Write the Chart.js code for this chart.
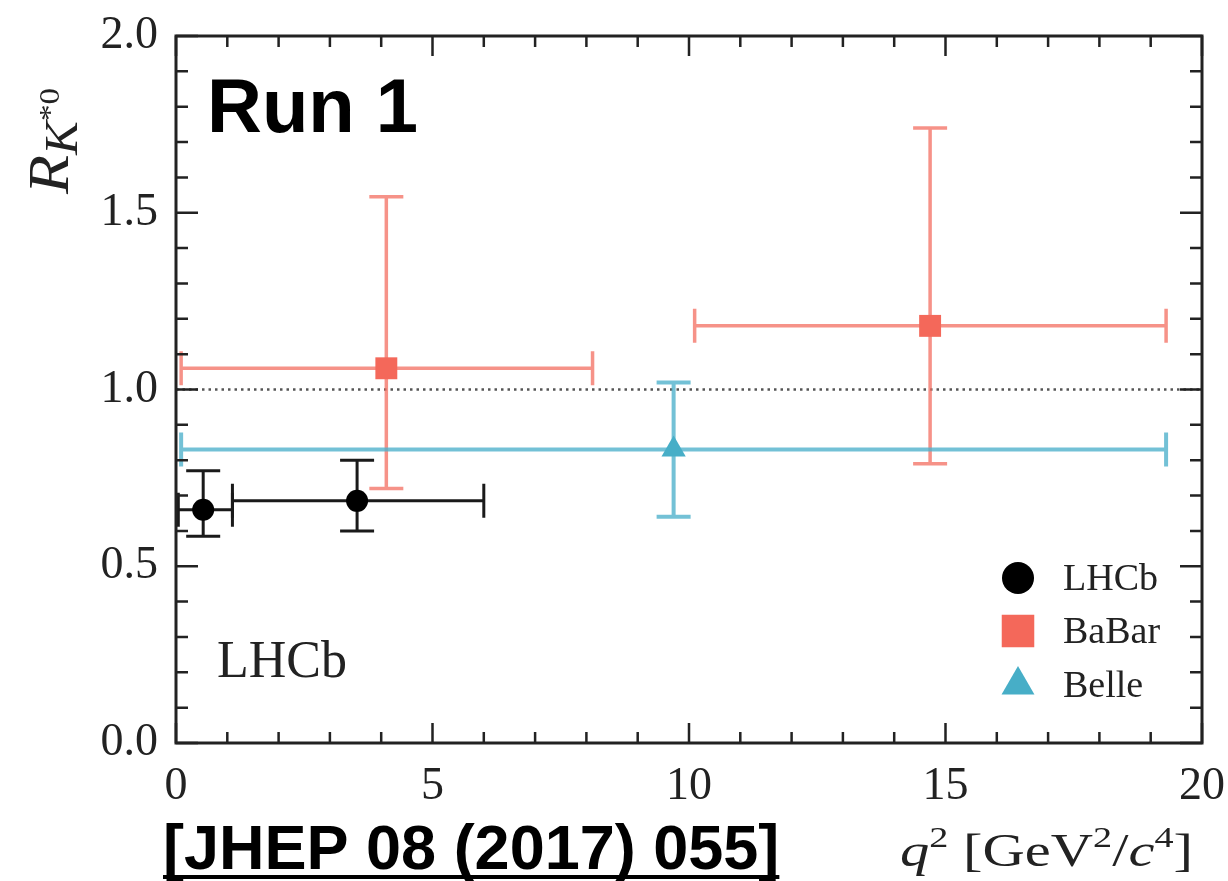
<!DOCTYPE html>
<html>
<head>
<meta charset="utf-8">
<script src="https://cdn.jsdelivr.net/npm/chart.js@4.4.1/dist/chart.umd.min.js"></script>
<style>
    html, body { margin: 0; padding: 0; background: #fff; }
    #wrap { width: 1228px; height: 881px; }
</style>
</head>
<body>
<div id="wrap"><canvas id="chart" width="1228" height="881"></canvas></div>
<script>
// LHCb (Run 1)
const lhcbQ2 = [0.53, 3.53];
const lhcbQ2Lo = [0.045, 1.1];
const lhcbQ2Hi = [1.1, 6.0];
const lhcbR = [0.66, 0.685];
const lhcbRLo = [0.585, 0.60];
const lhcbRHi = [0.77, 0.80];

// BaBar
const babarQ2 = [4.1, 14.7];
const babarQ2Lo = [0.1, 10.11];
const babarQ2Hi = [8.12, 19.3];
const babarR = [1.06, 1.18];
const babarRLo = [0.72, 0.79];
const babarRHi = [1.545, 1.74];

// Belle
const belleQ2 = [9.7];
const belleQ2Lo = [0.1];
const belleQ2Hi = [19.3];
const belleR = [0.83];
const belleRLo = [0.64];
const belleRHi = [1.02];

const xTicks = [0, 5, 10, 15, 20];
const yTicks = [0.0, 0.5, 1.0, 1.5, 2.0];
const legendLabels = ["LHCb", "BaBar", "Belle"];

const SERIF = "'Liberation Serif', 'DejaVu Serif', serif";
const SANS = "'Liberation Sans', Arial, sans-serif";

function buildPoints(x, xLo, xHi, y, yLo, yHi) {
    return x.map((v, i) => ({ x: v, y: y[i], xMin: xLo[i], xMax: xHi[i], yMin: yLo[i], yMax: yHi[i] }));
}

// error bars (horizontal bin + vertical uncertainty) with caps
const errorBars = {
    id: "errorBars",
    beforeDatasetsDraw(chart) {
        const { ctx, scales: { x, y } } = chart;
        chart.data.datasets.forEach(ds => {
            ctx.save();
            ctx.strokeStyle = ds.errorColor;
            ctx.lineWidth = ds.errorWidth;
            const cap = 17;
            ds.data.forEach(p => {
                const px = x.getPixelForValue(p.x);
                const py = y.getPixelForValue(p.y);
                const x0 = x.getPixelForValue(p.xMin);
                const x1 = x.getPixelForValue(p.xMax);
                const y0 = y.getPixelForValue(p.yMin);
                const y1 = y.getPixelForValue(p.yMax);
                ctx.beginPath();
                ctx.moveTo(x0, py); ctx.lineTo(x1, py);
                ctx.moveTo(x0, py - cap); ctx.lineTo(x0, py + cap);
                ctx.moveTo(x1, py - cap); ctx.lineTo(x1, py + cap);
                ctx.moveTo(px, y0); ctx.lineTo(px, y1);
                ctx.moveTo(px - cap, y0); ctx.lineTo(px + cap, y0);
                ctx.moveTo(px - cap, y1); ctx.lineTo(px + cap, y1);
                ctx.stroke();
            });
            ctx.restore();
        });
    }
};

// dotted reference line at R = 1
const refLine = {
    id: "refLine",
    beforeDatasetsDraw(chart) {
        const { ctx, chartArea: a, scales: { y } } = chart;
        const py = y.getPixelForValue(1.0);
        ctx.save();
        ctx.strokeStyle = "#555";
        ctx.lineWidth = 2.5;
        ctx.setLineDash([2.5, 4]);
        ctx.beginPath();
        ctx.moveTo(a.left, py);
        ctx.lineTo(a.right, py);
        ctx.stroke();
        ctx.restore();
    }
};

function richText(ctx, parts, x, y, targetWidth) {
    // parts: [text, font, dy]
    let total = 0;
    parts.forEach(([t, f]) => { ctx.font = f; total += ctx.measureText(t).width; });
    ctx.save();
    ctx.translate(x, y);
    if (targetWidth) ctx.scale(targetWidth / total, 1);
    let cx = 0;
    parts.forEach(([t, f, dy]) => {
        ctx.font = f;
        ctx.fillText(t, cx, dy || 0);
        cx += ctx.measureText(t).width;
    });
    ctx.restore();
}

// frame, inward ticks on all four sides, labels and legend
const frame = {
    id: "frame",
    afterDraw(chart) {
        const { ctx, chartArea: a, scales: { x, y } } = chart;
        ctx.save();
        ctx.strokeStyle = "#222";
        ctx.lineWidth = 3;
        ctx.strokeRect(a.left, a.top, a.right - a.left, a.bottom - a.top);

        ctx.lineWidth = 2.5;
        ctx.beginPath();
        for (let v = 0; v <= 20; v += 1) {
            const px = x.getPixelForValue(v);
            const len = v % 5 === 0 ? 20 : 11;
            ctx.moveTo(px, a.bottom); ctx.lineTo(px, a.bottom - len);
            ctx.moveTo(px, a.top); ctx.lineTo(px, a.top + len);
        }
        for (let k = 0; k <= 20; k++) {
            const py = y.getPixelForValue(k / 10);
            const len = k % 5 === 0 ? 22 : 12;
            ctx.moveTo(a.left, py); ctx.lineTo(a.left + len, py);
            ctx.moveTo(a.right, py); ctx.lineTo(a.right - len, py);
        }
        ctx.stroke();

        ctx.fillStyle = "#000";
        ctx.textBaseline = "alphabetic";
        ctx.textAlign = "left";

        // Run 1 tag
        ctx.font = "bold 76px " + SANS;
        ctx.fillText("Run 1", 207, 132);

        // LHCb label inside plot
        ctx.fillStyle = "#222";
        ctx.font = "52px " + SERIF;
        ctx.fillText("LHCb", 217, 677);

        // reference below plot
        ctx.fillStyle = "#000";
        ctx.font = "bold 63px " + SANS;
        const ref = "[JHEP 08 (2017) 055]";
        ctx.fillText(ref, 163, 869);
        const w = ctx.measureText(ref).width;
        ctx.fillRect(163, 875, w, 4);

        // x axis title
        ctx.fillStyle = "#222";
        richText(ctx, [
            ["q", "italic 46px " + SERIF, 0],
            ["2", "30px " + SERIF, -19],
            [" [GeV", "46px " + SERIF, 0],
            ["2", "30px " + SERIF, -19],
            ["/", "46px " + SERIF, 0],
            ["c", "italic 46px " + SERIF, 0],
            ["4", "30px " + SERIF, -19],
            ["]", "46px " + SERIF, 0]
        ], 900, 866, 293);

        // y axis title, rotated
        ctx.save();
        ctx.translate(68, 194);
        ctx.rotate(-Math.PI / 2);
        richText(ctx, [
            ["R", "italic 58px " + SERIF, 0],
            ["K", "italic 46px " + SERIF, 9],
            ["*0", "30px " + SERIF, -9]
        ], 0, 0, 106);
        ctx.restore();

        // legend
        const rows = [578, 631, 685];
        chart.data.datasets.forEach((ds, i) => {
            ctx.fillStyle = ds.backgroundColor;
            ctx.strokeStyle = ds.backgroundColor;
            Chart.helpers.drawPoint(ctx, {
                pointStyle: ds.pointStyle, radius: ds.legendRadius, rotation: 0, borderWidth: 0
            }, 1018, rows[i]);
            ctx.fillStyle = "#222";
            ctx.font = "38px " + SERIF;
            ctx.textBaseline = "middle";
            ctx.fillText(legendLabels[i], 1063, rows[i] + 2);
        });
        ctx.restore();
    }
};

new Chart(document.getElementById("chart"), {
    type: "scatter",
    data: {
        datasets: [
            {
                label: "LHCb",
                data: buildPoints(lhcbQ2, lhcbQ2Lo, lhcbQ2Hi, lhcbR, lhcbRLo, lhcbRHi),
                pointStyle: "circle",
                pointRadius: 11,
                legendRadius: 16,
                backgroundColor: "#000",
                borderWidth: 0,
                errorColor: "#1a1a1a",
                errorWidth: 3
            },
            {
                label: "BaBar",
                data: buildPoints(babarQ2, babarQ2Lo, babarQ2Hi, babarR, babarRLo, babarRHi),
                pointStyle: "rect",
                pointRadius: 15.5,
                legendRadius: 23,
                backgroundColor: "#f4685a",
                borderWidth: 0,
                errorColor: "rgba(243, 110, 96, 0.75)",
                errorWidth: 3.5
            },
            {
                label: "Belle",
                data: buildPoints(belleQ2, belleQ2Lo, belleQ2Hi, belleR, belleRLo, belleRHi),
                pointStyle: "triangle",
                pointRadius: 14,
                legendRadius: 19,
                backgroundColor: "#47aec7",
                borderWidth: 0,
                errorColor: "rgba(80, 178, 204, 0.8)",
                errorWidth: 4
            }
        ]
    },
    options: {
        responsive: false,
        animation: false,
        layout: { padding: { top: 36, right: 26, left: 0, bottom: 0 } },
        plugins: { legend: { display: false }, tooltip: { enabled: false } },
        scales: {
            x: {
                type: "linear",
                min: 0,
                max: 20,
                afterFit: s => { s.height = 138; s.paddingLeft = 0; s.paddingRight = 0; },
                afterBuildTicks: s => { s.ticks = xTicks.map(v => ({ value: v })); },
                grid: { display: false },
                border: { display: false },
                ticks: {
                    padding: 8,
                    color: "#222",
                    font: { family: SERIF, size: 46 },
                    maxRotation: 0,
                    callback: v => String(v)
                }
            },
            y: {
                type: "linear",
                min: 0,
                max: 2,
                afterFit: s => { s.width = 176; s.paddingTop = 0; s.paddingBottom = 0; },
                afterBuildTicks: s => { s.ticks = yTicks.map(v => ({ value: v })); },
                grid: { display: false },
                border: { display: false },
                ticks: {
                    padding: 10,
                    color: "#222",
                    font: { family: SERIF, size: 46 },
                    callback: v => v.toFixed(1)
                }
            }
        }
    },
    plugins: [refLine, errorBars, frame]
});
</script>
</body>
</html>
